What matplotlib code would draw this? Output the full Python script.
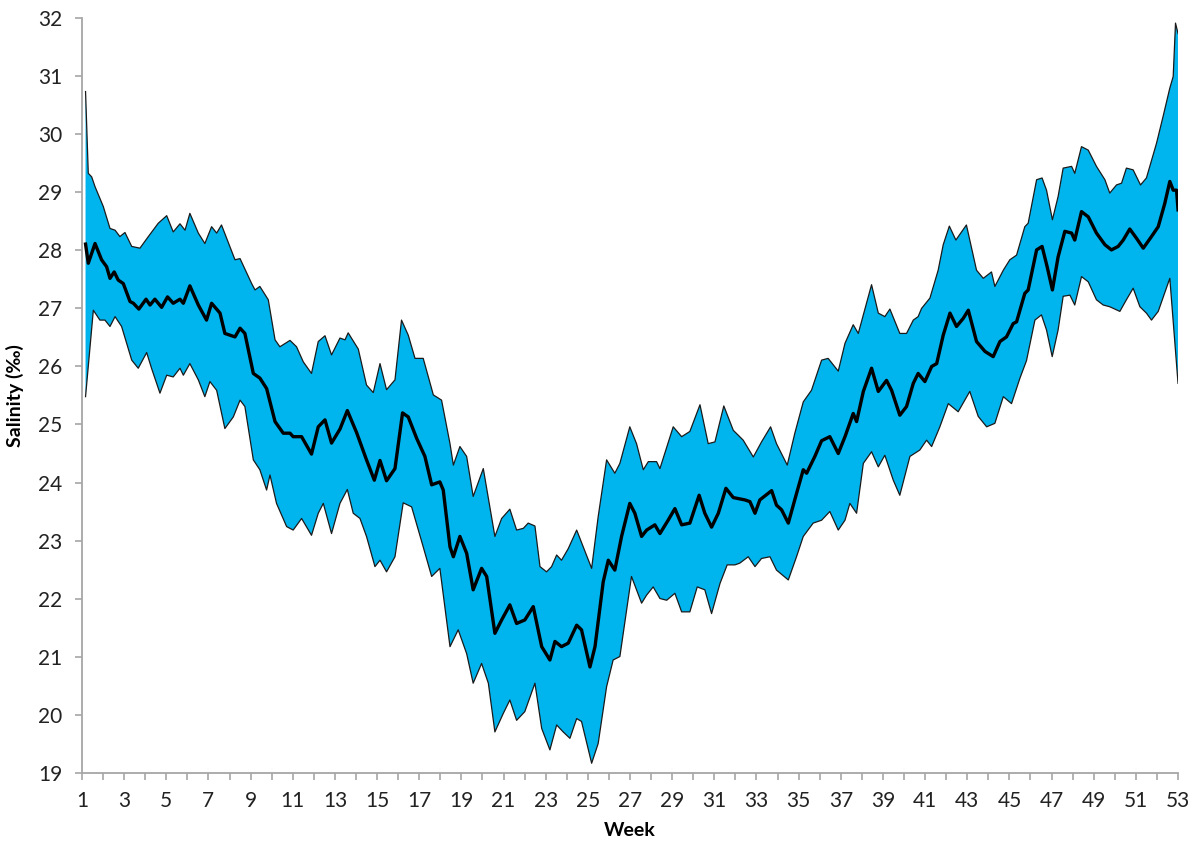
import matplotlib.pyplot as plt
import numpy as np

# Weekly salinity band: upper envelope, mean and lower envelope (‰)
upper_week = [1.17, 1.30, 1.46, 1.62, 2.01, 2.33, 2.57, 2.80, 3.04, 3.36, 3.75, 4.15, 4.62, 5.02,
              5.33, 5.65, 5.89, 6.12, 6.52, 6.83, 7.15, 7.39, 7.62, 8.26, 8.50, 9.05, 9.21, 9.44,
              9.84, 10.16, 10.39, 10.87, 11.18, 11.50, 11.89, 12.21, 12.53, 12.84, 13.24, 13.48,
              13.63, 14.11, 14.50, 14.82, 15.14, 15.45, 15.85, 16.16, 16.48, 16.80, 17.19, 17.67,
              18.06, 18.46, 18.62, 18.93, 19.25, 19.56, 20.04, 20.59, 20.91, 21.30, 21.62, 21.94,
              22.17, 22.49, 22.73, 23.04, 23.28, 23.52, 23.75, 24.07, 24.47, 24.78, 25.18, 25.49,
              25.89, 26.28, 26.52, 26.99, 27.31, 27.63, 27.87, 28.26, 28.42, 29.05, 29.45, 29.84,
              30.32, 30.71, 31.03, 31.45, 31.90, 32.37, 32.85, 33.24, 33.67, 33.95, 34.46, 34.82,
              35.22, 35.61, 36.09, 36.40, 36.88, 37.20, 37.59, 37.83, 38.46, 38.78, 39.09, 39.33,
              39.80, 40.12, 40.44, 40.67, 40.83, 41.23, 41.62, 41.86, 42.15, 42.46, 42.73, 42.96,
              43.44, 43.76, 44.15, 44.31, 44.71, 45.02, 45.34, 45.73, 45.89, 46.29, 46.55, 46.76,
              47.04, 47.31, 47.55, 47.95, 48.10, 48.42, 48.74, 49.13, 49.53, 49.76, 50.08, 50.32,
              50.55, 50.87, 51.22, 51.50, 51.98, 52.29, 52.61, 52.77, 52.88, 53.00]
upper_sal = [30.74, 29.33, 29.27, 29.10, 28.76, 28.38, 28.35, 28.24, 28.31, 28.07, 28.04, 28.24, 28.47, 28.60,
             28.32, 28.46, 28.35, 28.64, 28.30, 28.12, 28.41, 28.30, 28.44, 27.84, 27.86, 27.43, 27.32, 27.38,
             27.15, 26.46, 26.34, 26.45, 26.34, 26.08, 25.88, 26.43, 26.53, 26.20, 26.49, 26.46,
             26.58, 26.30, 25.68, 25.55, 26.05, 25.60, 25.77, 26.80, 26.54, 26.14, 26.14, 25.51,
             25.42, 24.67, 24.30, 24.62, 24.45, 23.76, 24.24, 23.07, 23.38, 23.54, 23.18, 23.21,
             23.30, 23.25, 22.55, 22.46, 22.55, 22.75, 22.66, 22.86, 23.18, 22.89, 22.52, 23.41,
             24.39, 24.16, 24.33, 24.96, 24.67, 24.22, 24.36, 24.36, 24.24, 24.96, 24.79, 24.88,
             25.34, 24.67, 24.70, 25.32, 24.90, 24.73, 24.44, 24.70, 24.96, 24.67, 24.30, 24.85,
             25.39, 25.59, 26.11, 26.14, 25.92, 26.40, 26.72, 26.57, 27.41, 26.92, 26.86, 26.99,
             26.57, 26.57, 26.80, 26.86, 27.00, 27.18, 27.66, 28.10, 28.42, 28.18, 28.32, 28.44,
             27.66, 27.52, 27.63, 27.38, 27.66, 27.84, 27.92, 28.41, 28.47, 29.22, 29.25, 29.04,
             28.53, 28.93, 29.42, 29.45, 29.33, 29.79, 29.73, 29.45, 29.22, 28.99, 29.13, 29.16,
             29.42, 29.39, 29.13, 29.25, 29.85, 30.31, 30.80, 31.00, 31.92, 31.74]

mean_week = [1.17, 1.30, 1.62, 1.93, 2.17, 2.33, 2.53, 2.72, 2.96, 3.28, 3.44, 3.70, 4.04, 4.23,
             4.46, 4.78, 5.06, 5.33, 5.65, 5.81, 6.12, 6.52, 6.91, 7.15, 7.55, 7.78, 8.02, 8.26,
             8.50, 8.73, 9.13, 9.44, 9.76, 10.16, 10.55, 10.87, 11.02, 11.42, 11.89, 12.21, 12.53,
             12.84, 13.24, 13.59, 14.03, 14.50, 14.87, 15.14, 15.45, 15.85, 16.21, 16.48, 16.88,
             17.27, 17.59, 17.98, 18.14, 18.46, 18.62, 18.93, 19.25, 19.56, 19.96, 20.20, 20.59,
             20.91, 21.30, 21.62, 22.01, 22.41, 22.81, 23.20, 23.44, 23.75, 24.07, 24.47, 24.70,
             25.10, 25.34, 25.73, 25.97, 26.28, 26.60, 26.99, 27.23, 27.55, 27.79, 28.18, 28.42,
             28.81, 29.13, 29.45, 29.84, 30.28, 30.55, 30.87, 31.19, 31.55, 31.90, 32.45, 32.69,
             32.93, 33.16, 33.72, 33.95, 34.19, 34.51, 34.90, 35.22, 35.38, 35.77, 36.09, 36.48,
             36.88, 37.20, 37.59, 37.75, 38.07, 38.46, 38.78, 39.17, 39.41, 39.80, 40.12, 40.44,
             40.67, 40.99, 41.31, 41.55, 41.86, 42.18, 42.49, 42.81, 43.05, 43.44, 43.84, 44.23,
             44.55, 44.86, 45.18, 45.34, 45.73, 45.89, 46.29, 46.55, 46.79, 47.04, 47.31, 47.63,
             47.95, 48.10, 48.42, 48.74, 49.13, 49.53, 49.84, 50.16, 50.40, 50.71, 51.03, 51.35,
             51.74, 52.06, 52.37, 52.61, 52.77, 52.93, 53.00]
mean_sal = [28.11, 27.78, 28.12, 27.84, 27.72, 27.52, 27.63, 27.49, 27.43, 27.12, 27.09, 26.99, 27.16, 27.06,
            27.16, 27.02, 27.20, 27.09, 27.16, 27.09, 27.39, 27.06, 26.80, 27.09, 26.92, 26.57, 26.54, 26.51,
            26.66, 26.57, 25.88, 25.80, 25.62, 25.05, 24.85, 24.85, 24.79, 24.79, 24.49, 24.96, 25.08,
            24.68, 24.92, 25.24, 24.86, 24.39, 24.04, 24.38, 24.03, 24.24, 25.20, 25.13, 24.76,
            24.45, 23.96, 24.01, 23.87, 22.89, 22.72, 23.07, 22.78, 22.15, 22.52, 22.38, 21.40,
            21.63, 21.89, 21.57, 21.63, 21.86, 21.17, 20.94, 21.26, 21.17, 21.23, 21.54, 21.46,
            20.82, 21.17, 22.29, 22.66, 22.49, 23.07, 23.64, 23.47, 23.07, 23.18, 23.27, 23.12,
            23.35, 23.55, 23.27, 23.30, 23.78, 23.47, 23.23, 23.47, 23.90, 23.74, 23.70, 23.67,
            23.47, 23.70, 23.86, 23.61, 23.53, 23.30, 23.81, 24.22, 24.16, 24.45, 24.72, 24.79,
            24.50, 24.79, 25.19, 25.05, 25.57, 25.97, 25.57, 25.76, 25.59, 25.16, 25.31, 25.71,
            25.88, 25.74, 26.00, 26.05, 26.54, 26.92, 26.69, 26.83, 26.97, 26.43, 26.26, 26.17,
            26.43, 26.51, 26.74, 26.77, 27.26, 27.32, 28.01, 28.07, 27.72, 27.32, 27.89, 28.33,
            28.30, 28.18, 28.67, 28.58, 28.30, 28.10, 28.01, 28.07, 28.18, 28.37, 28.21, 28.04,
            28.24, 28.41, 28.81, 29.19, 29.04, 29.04, 28.70]

lower_week = [1.17, 1.54, 1.85, 2.09, 2.33, 2.57, 2.88, 3.36, 3.67, 4.07, 4.30, 4.70, 5.02, 5.33,
              5.65, 5.81, 6.12, 6.52, 6.83, 7.07, 7.39, 7.78, 8.18, 8.50, 8.73, 9.13, 9.44, 9.76,
              9.92, 10.23, 10.71, 11.02, 11.42, 11.89, 12.21, 12.45, 12.84, 13.24, 13.59, 13.87,
              14.19, 14.50, 14.90, 15.14, 15.45, 15.85, 16.24, 16.64, 17.19, 17.59, 17.98, 18.46,
              18.85, 19.25, 19.56, 19.96, 20.28, 20.59, 20.99, 21.30, 21.62, 22.01, 22.49, 22.81,
              23.20, 23.52, 23.83, 24.15, 24.47, 24.70, 25.18, 25.49, 25.89, 26.20, 26.52, 27.07,
              27.55, 27.79, 28.10, 28.42, 28.74, 29.13, 29.45, 29.84, 30.19, 30.55, 30.87, 31.27,
              31.61, 31.98, 32.21, 32.61, 32.93, 33.24, 33.64, 33.95, 34.51, 34.90, 35.22, 35.69,
              36.09, 36.48, 36.88, 37.20, 37.43, 37.75, 38.07, 38.46, 38.78, 39.09, 39.49, 39.80,
              40.28, 40.75, 41.07, 41.31, 41.70, 42.10, 42.57, 43.12, 43.52, 43.92, 44.31, 44.71,
              45.10, 45.50, 45.81, 46.21, 46.52, 46.76, 47.03, 47.31, 47.55, 47.87, 48.10, 48.42,
              48.74, 49.13, 49.45, 49.76, 50.24, 50.55, 50.87, 51.19, 51.50, 51.74, 52.06, 52.61,
              53.00]
lower_sal = [25.48, 26.97, 26.80, 26.80, 26.69, 26.86, 26.69, 26.11, 25.97, 26.24, 25.97, 25.54, 25.85, 25.82,
             25.97, 25.85, 26.05, 25.77, 25.48, 25.74, 25.59, 24.93, 25.13, 25.42, 25.31, 24.39, 24.22, 23.87,
             24.13, 23.64, 23.24, 23.18, 23.38, 23.09, 23.47, 23.64, 23.12, 23.64, 23.88, 23.47,
             23.38, 23.07, 22.55, 22.66, 22.46, 22.72, 23.65, 23.58, 22.89, 22.38, 22.52, 21.17,
             21.46, 21.05, 20.54, 20.88, 20.54, 19.70, 20.02, 20.25, 19.90, 20.05, 20.54, 19.76,
             19.39, 19.82, 19.70, 19.59, 19.93, 19.88, 19.16, 19.50, 20.48, 20.94, 21.00, 22.38,
             21.92, 22.06, 22.20, 22.00, 21.97, 22.09, 21.77, 21.77, 22.20, 22.15, 21.74, 22.26,
             22.58, 22.58, 22.61, 22.72, 22.55, 22.69, 22.72, 22.49, 22.32, 22.72, 23.07, 23.30,
             23.35, 23.50, 23.18, 23.35, 23.64, 23.47, 24.33, 24.53, 24.27, 24.47, 24.04, 23.78,
             24.45, 24.56, 24.73, 24.62, 24.96, 25.36, 25.22, 25.57, 25.14, 24.96, 25.02, 25.48,
             25.36, 25.80, 26.10, 26.80, 26.89, 26.63, 26.17, 26.63, 27.21, 27.23, 27.06, 27.55,
             27.46, 27.15, 27.06, 27.03, 26.95, 27.15, 27.35, 27.03, 26.92, 26.80, 26.95, 27.52,
             25.71]

plt.rcParams['font.family'] = ['Lato', 'DejaVu Sans']

fig = plt.figure(figsize=(12, 8.43), dpi=100)
ax = fig.add_axes([0.0683, 0.0836, 0.9134, 0.8945])

# band between the envelopes, then outlines and mean on top
band_x = np.concatenate([upper_week, lower_week[::-1]])
band_y = np.concatenate([upper_sal, lower_sal[::-1]])
ax.fill(band_x, band_y, color='#00B4EE', linewidth=0, zorder=1)
ax.plot(upper_week, upper_sal, color='#1a1a1a', linewidth=0.9, zorder=2)
ax.plot(lower_week, lower_sal, color='#1a1a1a', linewidth=0.9, zorder=2)
ax.plot(mean_week, mean_sal, color='black', linewidth=2.4, zorder=3)

ax.set_xlim(1, 53)
ax.set_ylim(19, 32)
ax.set_xticks(np.arange(1, 54, 2))
ax.set_xticks(np.arange(1, 54, 1), minor=True)
ax.set_yticks(np.arange(19, 33, 1))

for side in ['top', 'right']:
    ax.spines[side].set_visible(False)
for side in ['left', 'bottom']:
    ax.spines[side].set_color('#A6A6A6')
    ax.spines[side].set_linewidth(1.3)

ax.tick_params(axis='both', which='both', direction='out', color='#A6A6A6',
               width=1.2, labelsize=15, labelcolor='#222222')
ax.tick_params(axis='both', which='major', length=5)
ax.tick_params(axis='x', which='minor', length=5)
ax.tick_params(axis='x', which='major', pad=8)
ax.tick_params(axis='y', which='major', pad=9)

ax.set_xlabel('Week', fontsize=14, fontweight='bold', labelpad=8)
ax.set_ylabel('Salinity (‰)', fontsize=14, fontweight='bold', labelpad=10)

fig.savefig('out.png', dpi=100)
